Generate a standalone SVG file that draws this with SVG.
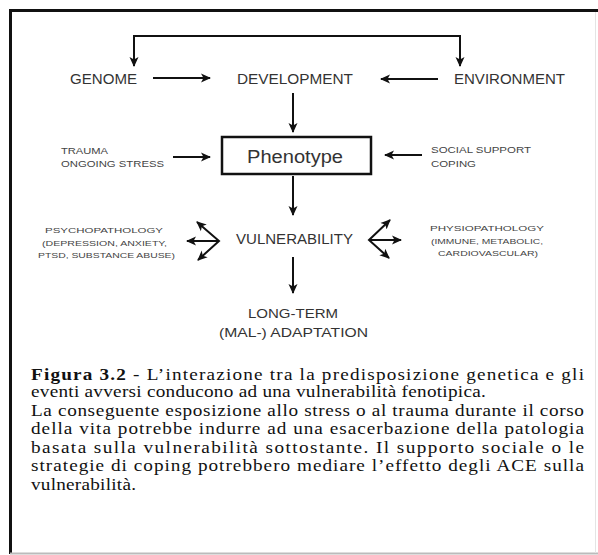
<svg xmlns="http://www.w3.org/2000/svg" width="598" height="555" viewBox="0 0 598 555">
<style>
.lbl{font-family:"Liberation Sans",Arial,sans-serif;fill:#333}
.big{font-size:14px}
.sm{font-size:9px;fill:#444}
.xs{font-size:8px;fill:#444}
.con{fill:none;stroke:#111;stroke-width:2;marker-end:url(#ah)}
.cap{font-family:"Liberation Serif","Times New Roman",serif;font-size:16px;fill:#111}
</style>
<defs>
<marker id="ah" viewBox="0 0 10 10" refX="9" refY="5" markerWidth="10" markerHeight="10" markerUnits="userSpaceOnUse" orient="auto-start-reverse">
<path d="M0,0.5 L10,5 L0,9.5 L2.5,5 z" fill="#111"/>
</marker>
</defs>
<rect width="598" height="555" fill="#fff"/>
<g id="frame">
<line x1="9" y1="10.5" x2="598" y2="10.5" stroke="#111" stroke-width="3"/>
<line x1="10.5" y1="9" x2="10.5" y2="554" stroke="#111" stroke-width="3"/>
<line x1="10" y1="553.5" x2="598" y2="553.5" stroke="#bbb" stroke-width="2"/>
<line x1="595.5" y1="12" x2="595.5" y2="553" stroke="#e4e4e4" stroke-width="1"/>
</g>
<g id="connectors">
<polyline class="con" points="134,66 134,36 460,36 460,66" style="marker-start:url(#ah)"/>
<line class="con" x1="153" y1="78" x2="210" y2="78"/>
<line class="con" x1="438" y1="79" x2="381" y2="79"/>
<line class="con" x1="293" y1="93" x2="293" y2="132"/>
<line class="con" x1="173" y1="157" x2="210" y2="157"/>
<line class="con" x1="422" y1="155" x2="385" y2="155"/>
<line class="con" x1="293" y1="176" x2="293" y2="215"/>
<line class="con" x1="293" y1="257" x2="293" y2="293"/>
<line class="con" x1="219" y1="241" x2="187" y2="241"/>
<polyline class="con" points="197,222 219,241 198,260" style="marker-start:url(#ah)"/>
<line class="con" x1="369" y1="240" x2="401" y2="240"/>
<polyline class="con" points="390,220 369,240 389,258" style="marker-start:url(#ah)"/>
</g>
<g id="genome"><text class="lbl big" x="70" y="84" textLength="67" lengthAdjust="spacingAndGlyphs">GENOME</text></g>
<g id="development"><text class="lbl big" x="237" y="84" textLength="116" lengthAdjust="spacingAndGlyphs">DEVELOPMENT</text></g>
<g id="environment"><text class="lbl big" x="454" y="84" textLength="111" lengthAdjust="spacingAndGlyphs">ENVIRONMENT</text></g>
<g id="phenotype">
<rect x="222" y="137" width="149" height="37" fill="#fff" stroke="#111" stroke-width="2.5"/>
<text class="lbl" x="247" y="163" font-size="18" fill="#222" textLength="96" lengthAdjust="spacingAndGlyphs">Phenotype</text>
</g>
<g id="trauma">
<text class="lbl sm" x="61" y="154" textLength="47" lengthAdjust="spacingAndGlyphs">TRAUMA</text>
<text class="lbl sm" x="61" y="167" textLength="103" lengthAdjust="spacingAndGlyphs">ONGOING STRESS</text>
</g>
<g id="social">
<text class="lbl sm" x="431" y="153" textLength="100" lengthAdjust="spacingAndGlyphs">SOCIAL SUPPORT</text>
<text class="lbl sm" x="431" y="167" textLength="45" lengthAdjust="spacingAndGlyphs">COPING</text>
</g>
<g id="vulnerability"><text class="lbl big" x="236" y="244" textLength="117" lengthAdjust="spacingAndGlyphs">VULNERABILITY</text></g>
<g id="psychopathology">
<text class="lbl xs" x="45" y="233" textLength="118" lengthAdjust="spacingAndGlyphs">PSYCHOPATHOLOGY</text>
<text class="lbl xs" x="42" y="246" textLength="125" lengthAdjust="spacingAndGlyphs">(DEPRESSION, ANXIETY,</text>
<text class="lbl xs" x="38" y="258" textLength="137" lengthAdjust="spacingAndGlyphs">PTSD, SUBSTANCE ABUSE)</text>
</g>
<g id="physiopathology">
<text class="lbl xs" x="430" y="231" textLength="114" lengthAdjust="spacingAndGlyphs">PHYSIOPATHOLOGY</text>
<text class="lbl xs" x="431" y="244" textLength="112" lengthAdjust="spacingAndGlyphs">(IMMUNE, METABOLIC,</text>
<text class="lbl xs" x="438" y="256" textLength="100" lengthAdjust="spacingAndGlyphs">CARDIOVASCULAR)</text>
</g>
<g id="longterm">
<text class="lbl" font-size="13" x="248" y="318" textLength="90" lengthAdjust="spacingAndGlyphs">LONG-TERM</text>
<text class="lbl" font-size="13" x="219" y="337" textLength="149" lengthAdjust="spacingAndGlyphs">(MAL-) ADAPTATION</text>
</g>
<g id="caption" transform="translate(31,0) scale(1.2,1)">
<text class="cap" x="0" y="380" textLength="460.8" lengthAdjust="spacing"><tspan font-weight="bold">Figura 3.2</tspan> - L’interazione tra la predisposizione genetica e gli</text>
<text class="cap" x="0" y="397.5" textLength="379" lengthAdjust="spacing">eventi avversi conducono ad una vulnerabilità fenotipica.</text>
<text class="cap" x="0" y="416" textLength="460.8" lengthAdjust="spacing">La conseguente esposizione allo stress o al trauma durante il corso</text>
<text class="cap" x="0" y="434.5" textLength="460.8" lengthAdjust="spacing">della vita potrebbe indurre ad una esacerbazione della patologia</text>
<text class="cap" x="0" y="453" textLength="460.8" lengthAdjust="spacing">basata sulla vulnerabilità sottostante. Il supporto sociale o le</text>
<text class="cap" x="0" y="471.5" textLength="460.8" lengthAdjust="spacing">strategie di coping potrebbero mediare l’effetto degli ACE sulla</text>
<text class="cap" x="0" y="490" textLength="87.5" lengthAdjust="spacing">vulnerabilità.</text>
</g>
</svg>
